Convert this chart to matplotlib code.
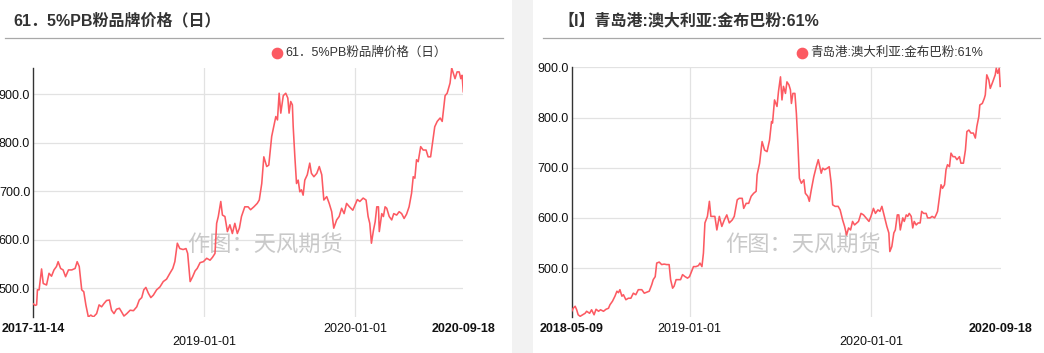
import matplotlib
matplotlib.use('Agg')
import matplotlib.pyplot as plt
import pandas as pd
from matplotlib.lines import Line2D
from matplotlib.patches import Rectangle
from matplotlib.transforms import blended_transform_factory

plt.rcParams['font.family'] = ['Liberation Sans', 'Noto Sans CJK SC', 'DejaVu Sans']

# ---------------- data ----------------
title_a = '61．5%PB粉品牌价格（日）'
title_b = '【I】青岛港:澳大利亚:金布巴粉:61%'
legend_a = '61．5%PB粉品牌价格（日）'
legend_b = '青岛港:澳大利亚:金布巴粉:61%'
watermark = '作图：天风期货'

start_a = '2017-11-14'
days_a = [0, 4, 8, 10, 14, 20, 24, 32, 38, 44, 50, 56, 60, 66, 72, 78, 85, 93, 101, 106,
          111, 117, 122, 127, 133, 139, 145, 153, 159, 165, 171, 177, 184, 189, 195, 201, 208, 213, 219, 226,
          234, 242, 250, 256, 262, 267, 272, 278, 284, 290, 298, 306, 314, 322, 330, 337, 342, 348, 354, 362,
          369, 373, 379, 385, 391, 396, 403, 411, 419, 427, 433, 439, 443, 447, 453, 457, 463, 469, 475, 481,
          487, 493, 498, 503, 511, 519, 525, 533, 541, 546,
          552, 557, 564, 569, 576, 581, 586, 590, 594, 598, 604, 610, 615, 618, 622, 626, 628, 632, 636, 640,
          644, 648, 652, 656, 662, 668, 672, 678, 685, 691, 697, 702, 709, 715, 721, 726, 733, 739, 745, 751,
          757, 764, 772, 779, 783, 789, 797, 804, 809, 813, 817, 822, 826, 830, 834, 836, 842, 846, 850, 854,
          860, 866, 871, 878, 884, 890, 896, 902, 908, 914, 918, 922, 926, 930, 936, 942, 949, 954, 960, 965,
          970, 976, 983, 988, 995, 1000, 1007, 1011, 1015, 1019, 1024, 1029, 1033, 1036, 1039]
price_a = [468, 465, 466, 497, 497, 540, 510, 507, 531, 525, 538, 545, 555, 541, 538, 524, 538, 538, 541, 555,
           545, 497, 493, 466, 441, 445, 441, 448, 466, 462, 469, 475, 476, 455, 448, 457, 459, 452, 443, 448,
           455, 454, 462, 476, 481, 497, 502, 490, 481, 486, 497, 503, 514, 519, 531, 541, 555, 593, 582, 580,
           582, 572, 514, 524, 536, 541, 553, 555, 562, 558, 564, 572, 634, 648, 679, 651, 648, 617, 631, 613,
           634, 613, 624, 648, 668, 668, 662, 668, 675, 682,
           716, 771, 751, 754, 813, 833, 854, 847, 902, 861, 897, 902, 892, 861, 885, 878, 833, 771, 716, 723,
           699, 703, 692, 723, 734, 758, 737, 730, 737, 751, 734, 682, 689, 675, 658, 624, 641, 648, 665, 654,
           675, 668, 661, 675, 683, 679, 686, 682, 648, 634, 593, 620, 637, 668, 668, 617, 654, 648, 668, 665,
           648, 641, 654, 651, 658, 654, 644, 653, 668, 696, 730, 727, 765, 761, 792, 785, 785, 771, 771, 802,
           833, 844, 851, 844, 897, 902, 923, 954, 943, 932, 946, 946, 932, 939, 905]

start_b = '2018-05-09'
days_b = [0, 3, 7, 10, 13, 17, 22, 27, 30, 36, 40, 45, 49, 54, 58, 64, 69, 74, 77, 82,
          87, 91, 94, 97, 101, 104, 109, 114, 119, 124, 129, 134, 141, 146, 151, 156, 161, 164, 168, 171,
          176, 181, 186, 191, 196, 199, 203, 206, 210, 215, 219, 223, 228, 233, 237, 241, 245, 250, 255, 258,
          262, 265, 268, 273, 277, 280,
          288, 292, 297, 302, 307, 312, 317, 323, 327, 333, 337, 343, 346, 351, 356, 361, 366, 371, 373, 378,
          383, 388, 393, 398, 402, 404, 408, 413, 416, 420, 423, 426, 430, 433, 437, 440, 442, 445, 449, 452,
          455, 458, 462, 467, 470, 475, 478, 482, 487, 492, 496, 499, 502, 505, 509, 514, 518, 522, 525, 530,
          536, 540, 545, 549, 553, 557, 561, 565, 569,
          577, 582, 587, 592, 598, 602, 607, 611, 616, 620, 624, 629, 634, 638, 640, 644, 648, 651, 655, 658,
          661, 666, 669, 673, 676, 679, 683, 686, 689, 693, 697, 701, 704, 708, 713, 716, 721, 725, 730, 733,
          736, 740, 743, 746, 750, 753, 756, 760, 763, 767, 771, 775, 780, 783, 788, 792, 795, 799, 803, 808,
          812, 815, 819, 821, 826, 830, 832, 835, 839, 842, 847, 852, 854, 857, 860, 862]
price_b = [414, 420, 424, 417, 407, 404, 407, 410, 414, 410, 417, 407, 418, 414, 417, 414, 418, 420, 427, 434,
           444, 454, 451, 457, 444, 447, 437, 440, 440, 450, 447, 457, 457, 450, 452, 454, 467, 477, 483, 510,
           512, 507, 508, 507, 507, 477, 460, 464, 477, 477, 477, 487, 483, 480, 483, 493, 503, 503, 505, 510,
           503, 530, 590, 603, 633, 603,
           603, 576, 603, 583, 596, 606, 590, 596, 603, 636, 639, 639, 619, 629, 629, 643, 649, 653, 686, 709,
           752, 735, 732, 755, 792, 789, 835, 822, 852, 881, 835, 862, 848, 871, 865, 855, 828, 848, 848, 808,
           749, 679, 669, 676, 649, 643, 633, 656, 682, 702, 716, 702, 689, 699, 696, 699, 702, 669, 626, 623,
           623, 616, 596, 583, 566, 580, 576, 593, 586,
           593, 609, 606, 600, 593, 603, 619, 609, 616, 613, 623, 603, 583, 570, 533, 543, 570, 576, 606, 606,
           576, 600, 593, 606, 603, 609, 603, 580, 593, 586, 590, 590, 613, 609, 609, 600, 600, 603, 600, 606,
           613, 643, 666, 659, 666, 696, 706, 702, 729, 722, 722, 716, 722, 709, 709, 735, 772, 775, 769, 769,
           759, 782, 802, 825, 828, 838, 845, 885, 875, 858, 871, 885, 898, 888, 898, 862]

xticks_a = ['2017-11-14', '2019-01-01', '2020-01-01', '2020-09-18']
xticks_b = ['2018-05-09', '2019-01-01', '2020-01-01', '2020-09-18']
yticks = [500, 600, 700, 800, 900]
ylim_a = (441, 954)
ylim_b = (402, 900)

# ---------------- layout ----------------
W, H = 1044, 353
RED = '#fc5a62'
fig = plt.figure(figsize=(W / 100, H / 100), dpi=100)
fig.patch.set_facecolor('white')


def fx(px):
    return px / W


def fy(py):
    return 1 - py / H


fig.add_artist(Rectangle((fx(512), 0), fx(533) - fx(512), 1, transform=fig.transFigure,
                         facecolor='#f2f2f2', edgecolor='none', zorder=0))


def panel(title, tx, line_x, legend, lx, days, prices, start, xt, rows, ylim,
          box, wm_x):
    # title and rule
    fig.text(fx(tx), fy(20.5), title, fontsize=11.5, fontweight='bold', color='#333333',
             ha='left', va='center')
    fig.add_artist(Line2D([fx(line_x[0]), fx(line_x[1])], [fy(37.5), fy(37.5)],
                          transform=fig.transFigure, color='#a8a8a8', lw=0.9))
    # legend
    fig.add_artist(Line2D([fx(lx)], [fy(52.5)], transform=fig.transFigure, marker='o',
                          ms=7.4, color=RED, ls='none'))
    fig.text(fx(lx + 8.5), fy(52.5), legend, fontsize=9, color='#333333',
             ha='left', va='center')

    left, top, right, bottom = box
    ax = fig.add_axes([fx(left), fy(bottom), (right - left) / W, (bottom - top) / H])
    dates = pd.Timestamp(start) + pd.to_timedelta(days, unit='D')
    ax.plot(dates, prices, color=RED, lw=1.15, zorder=3, solid_joinstyle='round')
    ax.set_xlim(pd.Timestamp(xt[0]), pd.Timestamp(xt[-1]))
    ax.set_ylim(*ylim)
    ax.set_yticks(yticks)
    ax.set_yticklabels([f'{v:.1f}' for v in yticks])
    ax.tick_params(axis='y', length=0, pad=2.2, labelsize=9, labelcolor='#111111')
    ax.set_xticks(pd.to_datetime(xt[1:-1]))
    ax.set_xticklabels([])
    ax.tick_params(axis='x', length=0)
    ax.grid(True, color='#e2e2e2', lw=0.9)
    ax.set_axisbelow(True)
    for s in ['top', 'right', 'bottom']:
        ax.spines[s].set_visible(False)
    ax.spines['left'].set_color('#333333')
    ax.spines['left'].set_linewidth(1.0)

    trans = blended_transform_factory(ax.transData, ax.transAxes)
    h = bottom - top
    for i, (lab, r) in enumerate(zip(xt, rows)):
        yy = -(329.3 - bottom) / h if r == 1 else -(342 - bottom) / h
        yy = (bottom - 329.3) / h if r == 1 else (bottom - 342.0) / h
        bold = i in (0, len(xt) - 1)
        ax.text(pd.Timestamp(lab), yy, lab, transform=trans, ha='center', va='center',
                fontsize=9, fontweight='bold' if bold else 'normal', color='#111111',
                clip_on=False)
    ax.text(fx(wm_x), fy(245), watermark, transform=fig.transFigure, fontsize=16,
            color='#c9c9c9', ha='center', va='center', zorder=1,
            family=['Noto Sans CJK SC', 'DejaVu Sans'])
    return ax


panel(title_a, 13, (5, 503), legend_a, 276.7, days_a, price_a, start_a, xticks_a,
      [1, 2, 1, 1], ylim_a, (33.3, 68, 463.3, 317), 265.5)
panel(title_b, 558, (543, 1040), legend_b, 802, days_b, price_b, start_b, xticks_b,
      [1, 1, 2, 1], ylim_b, (571.7, 67.3, 1000.7, 317.3), 803)

fig.savefig('out.png', dpi=100, facecolor='white')
